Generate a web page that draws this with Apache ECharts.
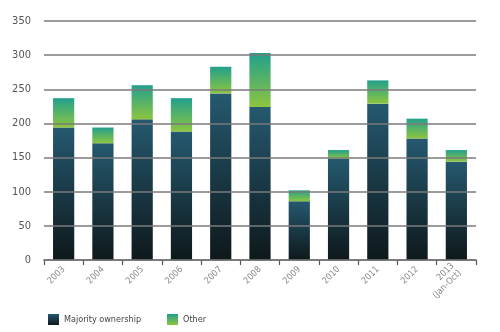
<!DOCTYPE html>
<html>
<head>
<meta charset="utf-8">
<script src="https://cdn.jsdelivr.net/npm/echarts@6/dist/echarts.min.js"></script>
<style>
  html, body { margin: 0; padding: 0; background: #fff; }
  #chart { width: 500px; height: 332px; }
</style>
</head>
<body>
<div id="chart"></div>
<script>
// Deal counts per year, split by ownership type
const years = ['2003', '2004', '2005', '2006', '2007', '2008', '2009', '2010', '2011', '2012', '2013\n(Jan-Oct)'];
const majorityOwnership = [194, 171, 206, 188, 244, 224, 86, 148, 229, 178, 144];
const other = [43, 23, 50, 49, 39, 79, 16, 13, 34, 29, 17];
const yTicks = [0, 50, 100, 150, 200, 250, 300, 350];

const FONT = '"Liberation Sans Narrow", "DejaVu Sans Condensed", "Roboto", sans-serif';

const majorityFill = new echarts.graphic.LinearGradient(0, 0, 0, 1, [
  { offset: 0, color: '#25596f' },
  { offset: 1, color: '#0e181b' }
]);
const otherFill = new echarts.graphic.LinearGradient(0, 0, 0, 1, [
  { offset: 0, color: '#22a08c' },
  { offset: 1, color: '#8cc540' }
]);

const chart = echarts.init(document.getElementById('chart'), null, { renderer: 'canvas' });
chart.setOption({
  animation: false,
  grid: { left: 44, right: 24, top: 21, bottom: 72 },
  legend: {
    left: 43,
    top: 309,
    itemWidth: 11,
    itemHeight: 11,
    itemGap: 26,
    icon: 'rect',
    textStyle: { fontFamily: FONT, fontSize: 9, color: '#444' },
    data: ['Majority ownership', 'Other']
  },
  xAxis: {
    type: 'category',
    data: years,
    axisLine: { lineStyle: { color: '#555', width: 1.5 } },
    axisTick: { show: true, alignWithLabel: false, length: 5, lineStyle: { color: '#555', width: 1.2 } },
    axisLabel: {
      rotate: 45,
      interval: 0,
      margin: 8,
      fontFamily: FONT,
      fontSize: 9,
      color: '#888',
      lineHeight: 10
    }
  },
  yAxis: {
    type: 'value',
    min: yTicks[0],
    max: yTicks[yTicks.length - 1],
    interval: 50,
    z: 5,
    axisLine: { show: false },
    axisTick: { show: false },
    axisLabel: { fontFamily: FONT, fontSize: 11, color: '#555', margin: 13 },
    splitLine: { lineStyle: { color: '#7a7a7a', width: 1.5 } }
  },
  series: [
    {
      name: 'Majority ownership',
      type: 'bar',
      stack: 'total',
      barWidth: '54%',
      data: majorityOwnership,
      itemStyle: { color: majorityFill }
    },
    {
      name: 'Other',
      type: 'bar',
      stack: 'total',
      barWidth: '54%',
      data: other,
      itemStyle: { color: otherFill }
    }
  ]
});
</script>
</body>
</html>
